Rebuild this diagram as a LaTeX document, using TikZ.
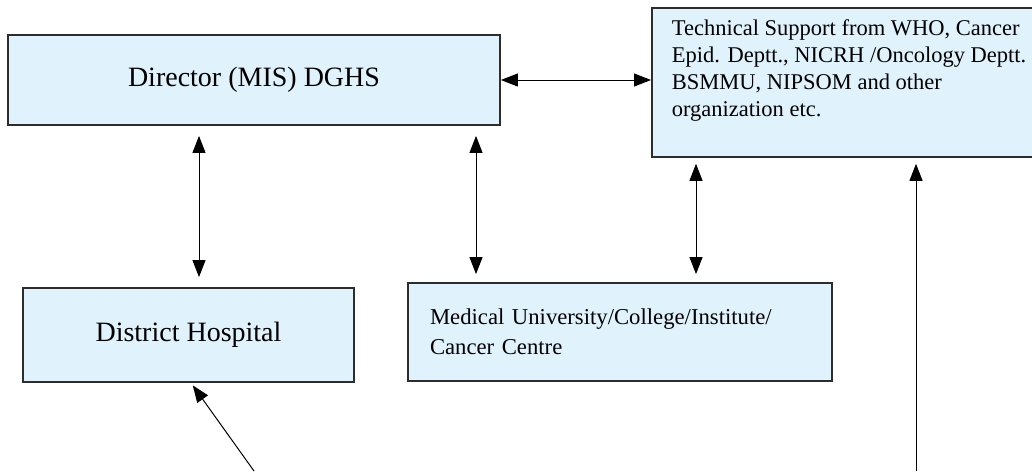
\documentclass[tikz,border=0pt]{standalone}
\usepackage{fontspec}
\setmainfont{Liberation Serif}
\usetikzlibrary{arrows.meta}
\definecolor{boxblue}{RGB}{224,242,252}
\definecolor{boxline}{RGB}{45,45,45}
\tikzset{
  unitbox/.style={rectangle,draw=boxline,fill=boxblue,line width=1.8pt,inner sep=0pt},
  link/.style={line width=1pt,-{Triangle[length=17pt,width=13pt]}},
  biarrow/.style={line width=1pt,{Triangle[length=17pt,width=13pt]}-{Triangle[length=17pt,width=13pt]}}
}
\begin{document}
\begin{tikzpicture}[x=1pt,y=-1pt]
\useasboundingbox (0,0) rectangle (1032,471);
\clip (0,0) rectangle (1032,471);

\node[unitbox,minimum width=492pt,minimum height=90pt,font=\fontsize{28}{34}\selectfont] (director) at (254,80) {Director (MIS) DGHS};
\node[unitbox,anchor=north west,inner xsep=20pt,inner ysep=12pt,align=left] (tech) at (651,7)
  {\parbox[c][125pt][t]{360pt}{\raggedright\fontsize{22.5}{27}\selectfont Technical Support from WHO, Cancer\\
   Epid. Deptt., NICRH /Oncology Deptt.\\ BSMMU, NIPSOM and other\\ organization etc.}};
\node[unitbox,minimum width=331pt,minimum height=94pt,font=\fontsize{28}{34}\selectfont] (district) at (188.5,335) {District Hospital};
\node[unitbox,minimum width=424pt,minimum height=98pt,inner xsep=22pt,text width=380pt,align=left,font=\fontsize{22.7}{30}\selectfont] (medical) at (620,332)
  {Medical University/College/Institute/\\ Cancer Centre};

\coordinate (dh) at (199,0);
\coordinate (mu) at (476,0);
\coordinate (ts) at (696,0);
\coordinate (dl) at (191,0);
\coordinate (lw) at (254,471);
\coordinate (rt) at (916,471);

\draw[biarrow] (director.east) -- (director.east -| tech.west);
\draw[biarrow,shorten <=10pt,shorten >=10pt] (dh |- director.south) -- (dh |- district.north);
\draw[biarrow,shorten <=10pt,shorten >=8pt] (mu |- director.south) -- (mu |- medical.north);
\draw[biarrow,shorten <=6pt,shorten >=8pt] (ts |- tech.south) -- (ts |- medical.north);
\draw[link,shorten >=6pt] (rt) -- (rt |- tech.south);
\draw[link,shorten >=3pt] (lw) -- (dl |- district.south);
\end{tikzpicture}
\end{document}
